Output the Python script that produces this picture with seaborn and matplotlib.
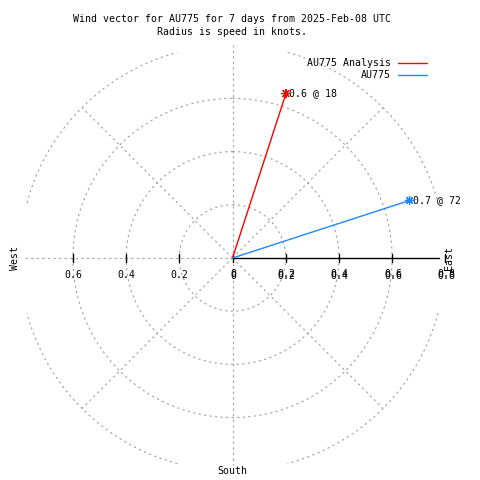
import numpy as np
import pandas as pd
import seaborn as sns
import matplotlib.pyplot as plt

# Vecteurs de vent (vitesse en noeuds, direction en degres depuis le nord)
series = ['AU775 Analysis', 'AU775']
speed = [0.65, 0.70]
direction = [18, 72]
tip_labels = ['0.6 @ 18', '0.7 @ 72']
colours = ['#ff0000', '#1e88ff']

rings = [0.2, 0.4, 0.6, 0.8]
ticks_left = [0.6, 0.4, 0.2]
ticks_right = [0, 0.2, 0.4, 0.6, 0.8]
tick_labels_left = ['0.6', '0.4', '0.2']
tick_labels_right = ['0', '0.2', '0.4', '0.6', '0.8']

sns.set_style('white')
plt.rcParams['font.family'] = ['DejaVu Sans Mono']
plt.rcParams['text.color'] = 'black'
fs = 7.1

fig = plt.figure(figsize=(4.8, 4.8), dpi=100)
ax = fig.add_axes([0, 0, 1, 1])
scale = 266.0
cx, cy = 232.5, 258.0
ax.set_xlim(-cx / scale, (480 - cx) / scale)
ax.set_ylim(-(480 - cy) / scale, cy / scale)
ax.axis('off')

grid_kw = dict(color='#a0a0a0', lw=0.8, ls=(0, (2.0, 3.0)), zorder=1)

# cercles
for r in rings:
    if r < 0.8:
        t = np.linspace(0, 2 * np.pi, 400)
        ax.plot(r * np.sin(t), r * np.cos(t), **grid_kw)
    else:
        for q in range(4):
            t = np.radians(np.linspace(q * 90 + 15, q * 90 + 75, 120))
            ax.plot(r * np.sin(t), r * np.cos(t), **grid_kw)

# rayons
for a in [45, 135, 225, 315]:
    t = np.radians(a)
    ax.plot([0, 0.8 * np.sin(t)], [0, 0.8 * np.cos(t)], **grid_kw)
ax.plot([0, 0], [0, 0.8], **grid_kw)
ax.plot([0, 0], [0, -0.78], **grid_kw)
ax.plot([0, -0.78], [0, 0], **grid_kw)

# axe est
ax.plot([0, 0.775], [0, 0], color='black', lw=1.0, zorder=2)
for v in ticks_left:
    ax.plot([-v, -v], [-0.015, 0.015], color='black', lw=1.0, zorder=2)
for v in ticks_right:
    ax.plot([v, v], [-0.015, 0.015], color='black', lw=1.0, zorder=2)
for v, s in zip(ticks_left, tick_labels_left):
    ax.text(-v, -0.065, s, ha='center', va='center', fontsize=fs)
for v, s in zip(ticks_right, tick_labels_right):
    ax.text(v + 0.003, -0.059, s, ha='center', va='center', fontsize=fs)
    ax.text(v + 0.003, -0.068, s, ha='center', va='center', fontsize=fs)

ax.text(-(cx - 15) / scale, 0, 'West', rotation=90, ha='center', va='center', fontsize=fs)
ax.text((449 - cx) / scale, 0, 'East', rotation=90, ha='center', va='center', fontsize=fs)
ax.text(0, -(471 - cy) / scale, 'South', ha='center', va='center', fontsize=fs)

# vecteurs
rows = []
for name, r, d in zip(series, speed, direction):
    t = np.radians(d)
    rows.append({'series': name, 'x': 0.0, 'y': 0.0})
    rows.append({'series': name, 'x': r * np.sin(t), 'y': r * np.cos(t)})
df = pd.DataFrame(rows)
pal = dict(zip(series, colours))
sns.lineplot(data=df, x='x', y='y', hue='series', palette=pal, sort=False,
             estimator=None, legend=False, lw=1.0, ax=ax, zorder=3)
tips = df.iloc[1::2]
sns.scatterplot(data=tips, x='x', y='y', hue='series', palette=pal, marker=(8, 2, 0),
                s=35, linewidth=0.9, legend=False, ax=ax, zorder=4)
for (_, row), lab in zip(tips.iterrows(), tip_labels):
    ax.text(row['x'] + 0.012, row['y'], lab, ha='left', va='center', fontsize=fs)

# legende
for i, (name, c) in enumerate(zip(series, colours)):
    ly = (cy - (63 + 12 * i)) / scale
    ax.text((391 - cx) / scale, ly, name, ha='right', va='center', fontsize=fs)
    ax.plot([(398 - cx) / scale, (427 - cx) / scale], [ly, ly], color=c, lw=1.0)

fig.text(232 / 480, 1 - 19 / 480, 'Wind vector for AU775 for 7 days from 2025-Feb-08 UTC',
         ha='center', va='center', fontsize=fs)
fig.text(232 / 480, 1 - 32 / 480, 'Radius is speed in knots.',
         ha='center', va='center', fontsize=fs)

fig.savefig('out.png', dpi=100)
